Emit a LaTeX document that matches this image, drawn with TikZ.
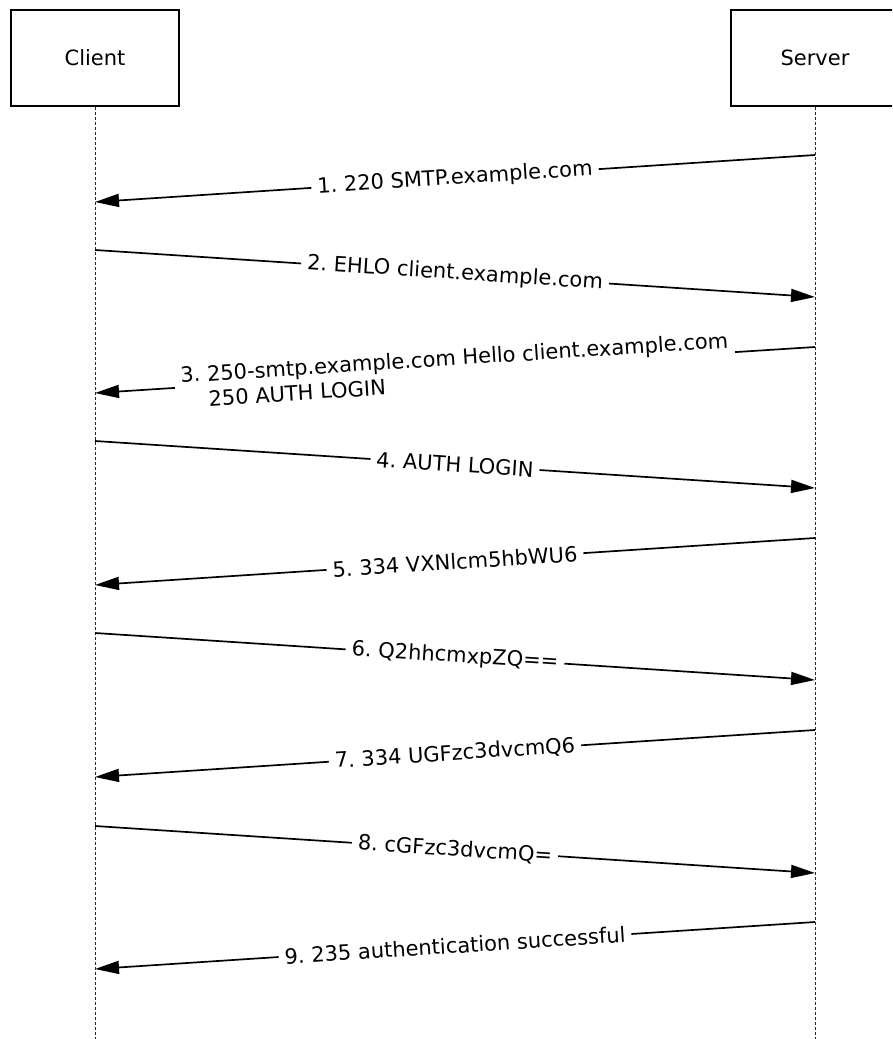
\documentclass[tikz,border=0pt]{standalone}
\usepackage{fontspec}
\setmainfont{DejaVu Sans}
\usetikzlibrary{arrows.meta}
\frenchspacing
\begin{document}
\begin{tikzpicture}[x=1pt,y=-1pt,
  actor/.style={draw=black,line width=1.6pt,minimum width=168pt,minimum height=96pt,inner sep=0pt,font=\fontsize{21}{25}\selectfont},
  lifeline/.style={draw=black!85,line width=1pt,dash pattern=on 3pt off 2pt},
  msg/.style={draw=black,line width=1.7pt,-{Triangle[length=24pt,width=13pt]}},
  msglabel/.style={sloped,fill=white,inner xsep=6pt,inner ysep=1pt,font=\fontsize{21}{25}\selectfont,align=left}]
\useasboundingbox (0,0) rectangle (892,1039);
\clip (0,0) rectangle (892,1039);
\node[actor] (cbox) at (95,58) {Client};
\node[actor] (sbox) at (815,58) {Server};
\coordinate (cend) at (95,1039);
\coordinate (send) at (815,1039);
\draw[lifeline] (cbox.south) -- (cend);
\draw[lifeline] (sbox.south) -- (send);
% message end points
\coordinate (s1) at (815,155); \coordinate (c1) at (95,202);
\coordinate (c2) at (95,250);  \coordinate (s2) at (815,297);
\coordinate (s3) at (815,347); \coordinate (c3) at (95,393);
\coordinate (c4) at (95,441);  \coordinate (s4) at (815,488);
\coordinate (s5) at (815,538); \coordinate (c5) at (95,585);
\coordinate (c6) at (95,633);  \coordinate (s6) at (815,680);
\coordinate (s7) at (815,730); \coordinate (c7) at (95,777);
\coordinate (c8) at (95,826);  \coordinate (s8) at (815,873);
\coordinate (s9) at (815,922); \coordinate (c9) at (95,969);
\draw[msg] (s1) -- node[msglabel] (l1) {1. 220 SMTP.example.com} (c1);
\draw[msg] (c2) -- node[msglabel] (l2) {2. EHLO client.example.com} (s2);
\draw[msg] (s3) -- node[msglabel] (l3) {3. 250-smtp.example.com Hello client.example.com\\\hphantom{3. }250 AUTH LOGIN} (c3);
\draw[msg] (c4) -- node[msglabel] (l4) {4. AUTH LOGIN} (s4);
\draw[msg] (s5) -- node[msglabel] (l5) {5. 334 VXNlcm5hbWU6} (c5);
\draw[msg] (c6) -- node[msglabel] (l6) {6. Q2hhcmxpZQ==} (s6);
\draw[msg] (s7) -- node[msglabel] (l7) {7. 334 UGFzc3dvcmQ6} (c7);
\draw[msg] (c8) -- node[msglabel] (l8) {8. cGFzc3dvcmQ=} (s8);
\draw[msg] (s9) -- node[msglabel] (l9) {9. 235 authentication successful} (c9);
\end{tikzpicture}
\end{document}
